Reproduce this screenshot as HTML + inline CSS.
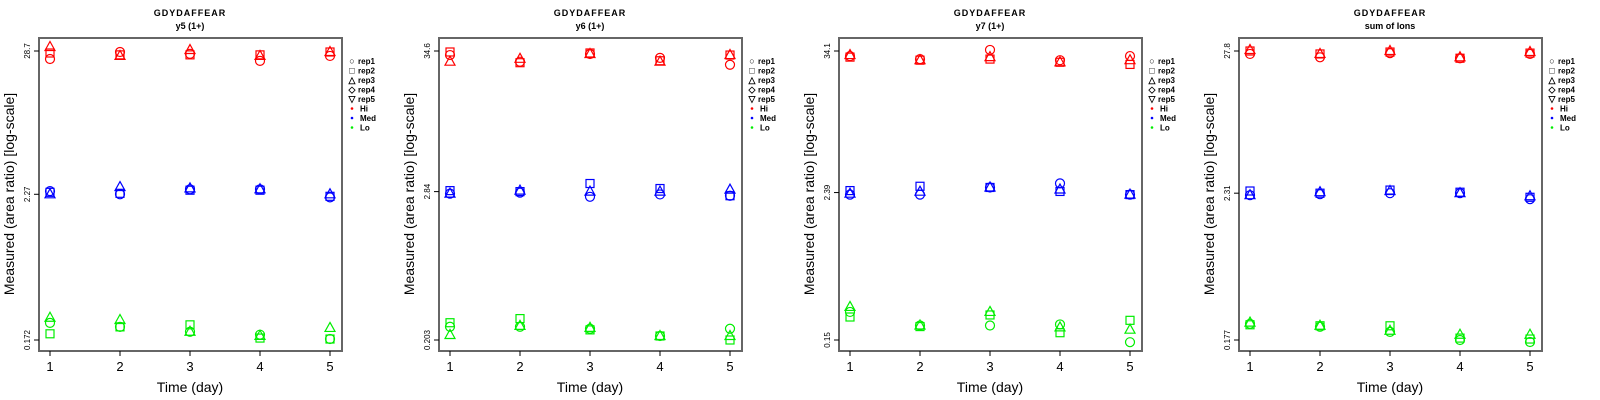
<!DOCTYPE html>
<html><head><meta charset="utf-8"><style>
html,body{margin:0;padding:0;background:#fff;}
svg{display:block;font-family:"Liberation Sans",sans-serif;}
</style></head><body>
<svg id="c" width="1600" height="400" xmlns="http://www.w3.org/2000/svg"></svg>
<script>
const days = [1,2,3,4,5];
const titles = ["y5 (1+)","y6 (1+)","y7 (1+)","sum of Ions"];
const peptide = "GDYDAFFEAR";
const tickTop = [28.7,34.6,34.1,27.8];
const tickMid = [2.27,2.84,2.39,2.31];
const tickBot = [0.172,0.203,0.15,0.177];
const reps = ["rep1","rep2","rep3","rep4","rep5"];
const levels = ["Hi","Med","Lo"];
const levelColors = ["#ff0000","#0000ff","#00ee00"];
const p1Hi = [[24.9,28.2,27.3,24.1,26.3],[27.7,26.8,26.8,26.8,28.2],[30.8,26.3,29.2,26.3,28.2]];
const p1Med = [[2.40,2.27,2.48,2.48,2.15],[2.35,2.31,2.44,2.44,2.19],[2.27,2.58,2.52,2.48,2.27]];
const p1Lo = [[0.233,0.217,0.199,0.189,0.175],[0.192,0.217,0.225,0.178,0.175],[0.255,0.245,0.199,0.185,0.213]];
const p2Hi = [[32.2,28.6,32.8,30.6,27.1],[34.0,28.1,33.4,29.1,32.2],[28.6,30.1,32.8,28.6,32.2]];
const p2Med = [[2.74,2.79,2.59,2.70,2.64],[2.89,2.84,3.28,3.0,2.64],[2.74,2.89,2.84,2.84,2.94]];
const p2Lo = [[0.257,0.257,0.248,0.218,0.248],[0.276,0.297,0.243,0.218,0.203],[0.222,0.261,0.252,0.218,0.218]];
const p3Hi = [[31.0,29.3,34.8,28.7,31.0],[30.4,28.7,29.3,27.6,26.5],[31.6,28.7,30.4,27.6,28.7]];
const p3Med = [[2.30,2.30,2.63,2.84,2.30],[2.48,2.69,2.63,2.44,2.30],[2.34,2.43,2.63,2.53,2.30]];
const p3Lo = [[0.254,0.197,0.197,0.201,0.144],[0.231,0.193,0.240,0.172,0.217],[0.279,0.197,0.254,0.190,0.182]];
const p4Hi = [[26.4,24.9,26.8,24.5,26.4],[27.8,26.4,27.3,24.5,26.8],[28.3,26.4,27.8,24.9,27.3]];
const p4Med = [[2.23,2.27,2.31,2.31,2.08],[2.40,2.31,2.44,2.35,2.15],[2.23,2.35,2.40,2.31,2.19]];
const p4Lo = [[0.235,0.223,0.204,0.177,0.171],[0.231,0.227,0.227,0.183,0.180],[0.240,0.227,0.208,0.194,0.194]];
const values = [[p1Hi,p1Med,p1Lo],[p2Hi,p2Med,p2Lo],[p3Hi,p3Med,p3Lo],[p4Hi,p4Med,p4Lo]];

const NS="http://www.w3.org/2000/svg";
const svg=document.getElementById('c');
function mk(tag,attrs,parent,text){const e=document.createElementNS(NS,tag);for(const k in attrs)e.setAttribute(k,attrs[k]);if(text!==undefined)e.textContent=text;(parent||svg).appendChild(e);return e;}

function marker(g,shape,x,y,col){
  const r=4.5;let e;
  if(shape===0) e=mk('circle',{cx:x,cy:y,r:r,fill:'none',stroke:col,'stroke-width':1.2},g);
  else if(shape===1) e=mk('rect',{x:x-4,y:y-4,width:8,height:8,fill:'none',stroke:col,'stroke-width':1.2},g);
  else if(shape===2) e=mk('polygon',{points:`${x},${y-5.5} ${x+5},${y+3.5} ${x-5},${y+3.5}`,fill:'none',stroke:col,'stroke-width':1.2},g);
  return e;
}

for(let p=0;p<4;p++){
  const ox=p*400;
  const L=ox+39,R=ox+342,T=38,B=351;
  const g=mk('g',{},svg);
  
  
  const xs=d=>ox+50+(d-1)*70;
  const lt=Math.log(tickTop[p]),lb=Math.log(tickBot[p]);
  const ys=v=>340-(Math.log(v)-lb)/(lt-lb)*289;
  let t=mk('text',{x:ox+190,y:16,'text-anchor':'middle','font-size':9,'font-weight':'bold','letter-spacing':'1'},g,peptide);
  
  t=mk('text',{x:ox+190,y:29,'text-anchor':'middle','font-size':9,'font-weight':'bold'},g,titles[p]);
  
  const box=mk('rect',{x:L,y:T,width:R-L,height:B-T,fill:'none',stroke:'#666','stroke-width':2},g);
  
  [tickTop[p],tickMid[p],tickBot[p]].forEach(v=>{
    const y=ys(v);
    mk('line',{x1:L-5,x2:L,y1:y,y2:y,stroke:'#000'},g);
    const tl=mk('text',{x:0,y:0,transform:`translate(${L-9},${y}) rotate(-90)`,'text-anchor':'middle','font-size':8},g,String(v));
    
  });
  days.forEach(d=>{
    const x=xs(d);
    mk('line',{x1:x,x2:x,y1:B,y2:B+5,stroke:'#000'},g);
    const tl=mk('text',{x:x,y:371,'text-anchor':'middle','font-size':13},g,String(d));
    
  });
  t=mk('text',{x:ox+190,y:392,'text-anchor':'middle','font-size':14},g,'Time (day)');
  
  t=mk('text',{x:0,y:0,transform:`translate(${ox+14},194) rotate(-90)`,'text-anchor':'middle','font-size':14},g,'Measured (area ratio) [log-scale]');
  
  values[p].forEach((lv,li)=>{
    lv.forEach((series,ri)=>{
      series.forEach((v,di)=>{
        const m=marker(g,ri,xs(days[di]),ys(v),levelColors[li]);
        
        
      });
    });
  });
  const lg=mk('g',{},g);
  
  const lx=R+10;
  const syms=['○','□','△','◇','▽'];
  reps.forEach((r,i)=>{
    const y=64+i*9.5;
    const s=mk('text',{x:lx,y:y,'font-size':9,'text-anchor':'middle','font-weight':'bold'},lg,syms[i]);
    
    const e=mk('text',{x:lx+6,y:y,'font-size':8,'font-weight':'bold'},lg,r);
    
  });
  levels.forEach((l,i)=>{
    const y=64+(5+i)*9.5;
    mk('circle',{cx:lx,cy:y-3,r:1.3,fill:levelColors[i]},lg);
    const e=mk('text',{x:lx+8,y:y,'font-size':8,'font-weight':'bold'},lg,l);
    
  });
}
</script>
</body></html>
